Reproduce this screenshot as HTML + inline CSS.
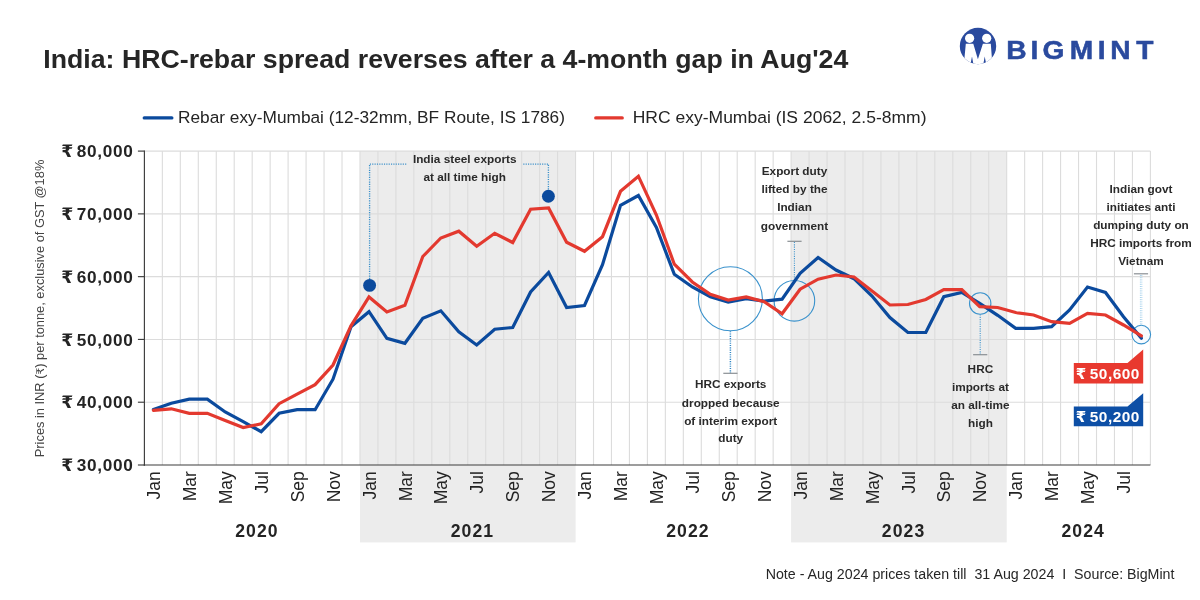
<!DOCTYPE html>
<html lang="en"><head><meta charset="utf-8"><title>India: HRC-rebar spread</title>
<style>
html,body{margin:0;padding:0;background:#fff;}
body{width:1200px;height:600px;position:relative;overflow:hidden;font-family:"Liberation Sans", "DejaVu Sans", sans-serif;}
</style></head><body>
<svg width="1200" height="600" viewBox="0 0 1200 600" style="position:absolute;left:0;top:0" font-family='"Liberation Sans", "DejaVu Sans", sans-serif'>
<rect x="360.0" y="151.1" width="215.6" height="391.3" fill="#ececec"/>
<rect x="791.1" y="151.1" width="215.6" height="391.3" fill="#ececec"/>
<line x1="162.36" y1="151.1" x2="162.36" y2="465.0" stroke="#dcdcdc" stroke-width="1.1"/>
<line x1="180.33" y1="151.1" x2="180.33" y2="465.0" stroke="#dcdcdc" stroke-width="1.1"/>
<line x1="198.29" y1="151.1" x2="198.29" y2="465.0" stroke="#dcdcdc" stroke-width="1.1"/>
<line x1="216.26" y1="151.1" x2="216.26" y2="465.0" stroke="#dcdcdc" stroke-width="1.1"/>
<line x1="234.22" y1="151.1" x2="234.22" y2="465.0" stroke="#dcdcdc" stroke-width="1.1"/>
<line x1="252.19" y1="151.1" x2="252.19" y2="465.0" stroke="#dcdcdc" stroke-width="1.1"/>
<line x1="270.15" y1="151.1" x2="270.15" y2="465.0" stroke="#dcdcdc" stroke-width="1.1"/>
<line x1="288.11" y1="151.1" x2="288.11" y2="465.0" stroke="#dcdcdc" stroke-width="1.1"/>
<line x1="306.08" y1="151.1" x2="306.08" y2="465.0" stroke="#dcdcdc" stroke-width="1.1"/>
<line x1="324.04" y1="151.1" x2="324.04" y2="465.0" stroke="#dcdcdc" stroke-width="1.1"/>
<line x1="342.01" y1="151.1" x2="342.01" y2="465.0" stroke="#dcdcdc" stroke-width="1.1"/>
<line x1="359.97" y1="151.1" x2="359.97" y2="465.0" stroke="#dcdcdc" stroke-width="1.1"/>
<line x1="377.94" y1="151.1" x2="377.94" y2="465.0" stroke="#dcdcdc" stroke-width="1.1"/>
<line x1="395.90" y1="151.1" x2="395.90" y2="465.0" stroke="#dcdcdc" stroke-width="1.1"/>
<line x1="413.86" y1="151.1" x2="413.86" y2="465.0" stroke="#dcdcdc" stroke-width="1.1"/>
<line x1="431.83" y1="151.1" x2="431.83" y2="465.0" stroke="#dcdcdc" stroke-width="1.1"/>
<line x1="449.79" y1="151.1" x2="449.79" y2="465.0" stroke="#dcdcdc" stroke-width="1.1"/>
<line x1="467.76" y1="151.1" x2="467.76" y2="465.0" stroke="#dcdcdc" stroke-width="1.1"/>
<line x1="485.72" y1="151.1" x2="485.72" y2="465.0" stroke="#dcdcdc" stroke-width="1.1"/>
<line x1="503.69" y1="151.1" x2="503.69" y2="465.0" stroke="#dcdcdc" stroke-width="1.1"/>
<line x1="521.65" y1="151.1" x2="521.65" y2="465.0" stroke="#dcdcdc" stroke-width="1.1"/>
<line x1="539.61" y1="151.1" x2="539.61" y2="465.0" stroke="#dcdcdc" stroke-width="1.1"/>
<line x1="557.58" y1="151.1" x2="557.58" y2="465.0" stroke="#dcdcdc" stroke-width="1.1"/>
<line x1="575.54" y1="151.1" x2="575.54" y2="465.0" stroke="#dcdcdc" stroke-width="1.1"/>
<line x1="593.51" y1="151.1" x2="593.51" y2="465.0" stroke="#dcdcdc" stroke-width="1.1"/>
<line x1="611.47" y1="151.1" x2="611.47" y2="465.0" stroke="#dcdcdc" stroke-width="1.1"/>
<line x1="629.44" y1="151.1" x2="629.44" y2="465.0" stroke="#dcdcdc" stroke-width="1.1"/>
<line x1="647.40" y1="151.1" x2="647.40" y2="465.0" stroke="#dcdcdc" stroke-width="1.1"/>
<line x1="665.36" y1="151.1" x2="665.36" y2="465.0" stroke="#dcdcdc" stroke-width="1.1"/>
<line x1="683.33" y1="151.1" x2="683.33" y2="465.0" stroke="#dcdcdc" stroke-width="1.1"/>
<line x1="701.29" y1="151.1" x2="701.29" y2="465.0" stroke="#dcdcdc" stroke-width="1.1"/>
<line x1="719.26" y1="151.1" x2="719.26" y2="465.0" stroke="#dcdcdc" stroke-width="1.1"/>
<line x1="737.22" y1="151.1" x2="737.22" y2="465.0" stroke="#dcdcdc" stroke-width="1.1"/>
<line x1="755.19" y1="151.1" x2="755.19" y2="465.0" stroke="#dcdcdc" stroke-width="1.1"/>
<line x1="773.15" y1="151.1" x2="773.15" y2="465.0" stroke="#dcdcdc" stroke-width="1.1"/>
<line x1="791.11" y1="151.1" x2="791.11" y2="465.0" stroke="#dcdcdc" stroke-width="1.1"/>
<line x1="809.08" y1="151.1" x2="809.08" y2="465.0" stroke="#dcdcdc" stroke-width="1.1"/>
<line x1="827.04" y1="151.1" x2="827.04" y2="465.0" stroke="#dcdcdc" stroke-width="1.1"/>
<line x1="845.01" y1="151.1" x2="845.01" y2="465.0" stroke="#dcdcdc" stroke-width="1.1"/>
<line x1="862.97" y1="151.1" x2="862.97" y2="465.0" stroke="#dcdcdc" stroke-width="1.1"/>
<line x1="880.94" y1="151.1" x2="880.94" y2="465.0" stroke="#dcdcdc" stroke-width="1.1"/>
<line x1="898.90" y1="151.1" x2="898.90" y2="465.0" stroke="#dcdcdc" stroke-width="1.1"/>
<line x1="916.86" y1="151.1" x2="916.86" y2="465.0" stroke="#dcdcdc" stroke-width="1.1"/>
<line x1="934.83" y1="151.1" x2="934.83" y2="465.0" stroke="#dcdcdc" stroke-width="1.1"/>
<line x1="952.79" y1="151.1" x2="952.79" y2="465.0" stroke="#dcdcdc" stroke-width="1.1"/>
<line x1="970.76" y1="151.1" x2="970.76" y2="465.0" stroke="#dcdcdc" stroke-width="1.1"/>
<line x1="988.72" y1="151.1" x2="988.72" y2="465.0" stroke="#dcdcdc" stroke-width="1.1"/>
<line x1="1006.69" y1="151.1" x2="1006.69" y2="465.0" stroke="#dcdcdc" stroke-width="1.1"/>
<line x1="1024.65" y1="151.1" x2="1024.65" y2="465.0" stroke="#dcdcdc" stroke-width="1.1"/>
<line x1="1042.61" y1="151.1" x2="1042.61" y2="465.0" stroke="#dcdcdc" stroke-width="1.1"/>
<line x1="1060.58" y1="151.1" x2="1060.58" y2="465.0" stroke="#dcdcdc" stroke-width="1.1"/>
<line x1="1078.54" y1="151.1" x2="1078.54" y2="465.0" stroke="#dcdcdc" stroke-width="1.1"/>
<line x1="1096.51" y1="151.1" x2="1096.51" y2="465.0" stroke="#dcdcdc" stroke-width="1.1"/>
<line x1="1114.47" y1="151.1" x2="1114.47" y2="465.0" stroke="#dcdcdc" stroke-width="1.1"/>
<line x1="1132.44" y1="151.1" x2="1132.44" y2="465.0" stroke="#dcdcdc" stroke-width="1.1"/>
<line x1="1150.40" y1="151.1" x2="1150.40" y2="465.0" stroke="#dcdcdc" stroke-width="1.1"/>
<line x1="144.4" y1="402.22" x2="1150.4" y2="402.22" stroke="#dcdcdc" stroke-width="1.1"/>
<line x1="144.4" y1="339.44" x2="1150.4" y2="339.44" stroke="#dcdcdc" stroke-width="1.1"/>
<line x1="144.4" y1="276.66" x2="1150.4" y2="276.66" stroke="#dcdcdc" stroke-width="1.1"/>
<line x1="144.4" y1="213.88" x2="1150.4" y2="213.88" stroke="#dcdcdc" stroke-width="1.1"/>
<line x1="144.4" y1="151.10" x2="1150.4" y2="151.10" stroke="#dcdcdc" stroke-width="1.1"/>
<line x1="144.4" y1="150.6" x2="144.4" y2="465.7" stroke="#3c3c3c" stroke-width="1.15"/>
<line x1="143.7" y1="465.0" x2="1150.4" y2="465.0" stroke="#3c3c3c" stroke-width="1.15"/>
<line x1="137.9" y1="465.00" x2="144.4" y2="465.00" stroke="#3c3c3c" stroke-width="1.15"/>
<text x="133.6" y="471.1" text-anchor="end" font-size="17.2" font-weight="bold" fill="#242424" letter-spacing="0.7"><tspan font-size="17.3" letter-spacing="0">₹</tspan><tspan dx="3.6">30,000</tspan></text>
<line x1="137.9" y1="402.22" x2="144.4" y2="402.22" stroke="#3c3c3c" stroke-width="1.15"/>
<text x="133.6" y="408.3" text-anchor="end" font-size="17.2" font-weight="bold" fill="#242424" letter-spacing="0.7"><tspan font-size="17.3" letter-spacing="0">₹</tspan><tspan dx="3.6">40,000</tspan></text>
<line x1="137.9" y1="339.44" x2="144.4" y2="339.44" stroke="#3c3c3c" stroke-width="1.15"/>
<text x="133.6" y="345.5" text-anchor="end" font-size="17.2" font-weight="bold" fill="#242424" letter-spacing="0.7"><tspan font-size="17.3" letter-spacing="0">₹</tspan><tspan dx="3.6">50,000</tspan></text>
<line x1="137.9" y1="276.66" x2="144.4" y2="276.66" stroke="#3c3c3c" stroke-width="1.15"/>
<text x="133.6" y="282.8" text-anchor="end" font-size="17.2" font-weight="bold" fill="#242424" letter-spacing="0.7"><tspan font-size="17.3" letter-spacing="0">₹</tspan><tspan dx="3.6">60,000</tspan></text>
<line x1="137.9" y1="213.88" x2="144.4" y2="213.88" stroke="#3c3c3c" stroke-width="1.15"/>
<text x="133.6" y="220.0" text-anchor="end" font-size="17.2" font-weight="bold" fill="#242424" letter-spacing="0.7"><tspan font-size="17.3" letter-spacing="0">₹</tspan><tspan dx="3.6">70,000</tspan></text>
<line x1="137.9" y1="151.10" x2="144.4" y2="151.10" stroke="#3c3c3c" stroke-width="1.15"/>
<text x="133.6" y="157.2" text-anchor="end" font-size="17.2" font-weight="bold" fill="#242424" letter-spacing="0.7"><tspan font-size="17.3" letter-spacing="0">₹</tspan><tspan dx="3.6">80,000</tspan></text>
<text transform="translate(43.8,457.2) rotate(-90)" font-size="12.6" fill="#444" textLength="297.5" lengthAdjust="spacingAndGlyphs">Prices in INR (<tspan font-size="10.5">₹</tspan>) per tonne, exclusive of GST @18%</text>
<text transform="translate(160.0,471.2) rotate(-90)" text-anchor="end" font-size="17.5" fill="#242424">Jan</text>
<text transform="translate(195.9,471.2) rotate(-90)" text-anchor="end" font-size="17.5" fill="#242424">Mar</text>
<text transform="translate(231.8,471.2) rotate(-90)" text-anchor="end" font-size="17.5" fill="#242424">May</text>
<text transform="translate(267.8,471.2) rotate(-90)" text-anchor="end" font-size="17.5" fill="#242424">Jul</text>
<text transform="translate(303.7,471.2) rotate(-90)" text-anchor="end" font-size="17.5" fill="#242424">Sep</text>
<text transform="translate(339.6,471.2) rotate(-90)" text-anchor="end" font-size="17.5" fill="#242424">Nov</text>
<text transform="translate(375.6,471.2) rotate(-90)" text-anchor="end" font-size="17.5" fill="#242424">Jan</text>
<text transform="translate(411.5,471.2) rotate(-90)" text-anchor="end" font-size="17.5" fill="#242424">Mar</text>
<text transform="translate(447.4,471.2) rotate(-90)" text-anchor="end" font-size="17.5" fill="#242424">May</text>
<text transform="translate(483.3,471.2) rotate(-90)" text-anchor="end" font-size="17.5" fill="#242424">Jul</text>
<text transform="translate(519.3,471.2) rotate(-90)" text-anchor="end" font-size="17.5" fill="#242424">Sep</text>
<text transform="translate(555.2,471.2) rotate(-90)" text-anchor="end" font-size="17.5" fill="#242424">Nov</text>
<text transform="translate(591.1,471.2) rotate(-90)" text-anchor="end" font-size="17.5" fill="#242424">Jan</text>
<text transform="translate(627.1,471.2) rotate(-90)" text-anchor="end" font-size="17.5" fill="#242424">Mar</text>
<text transform="translate(663.0,471.2) rotate(-90)" text-anchor="end" font-size="17.5" fill="#242424">May</text>
<text transform="translate(698.9,471.2) rotate(-90)" text-anchor="end" font-size="17.5" fill="#242424">Jul</text>
<text transform="translate(734.8,471.2) rotate(-90)" text-anchor="end" font-size="17.5" fill="#242424">Sep</text>
<text transform="translate(770.8,471.2) rotate(-90)" text-anchor="end" font-size="17.5" fill="#242424">Nov</text>
<text transform="translate(806.7,471.2) rotate(-90)" text-anchor="end" font-size="17.5" fill="#242424">Jan</text>
<text transform="translate(842.6,471.2) rotate(-90)" text-anchor="end" font-size="17.5" fill="#242424">Mar</text>
<text transform="translate(878.6,471.2) rotate(-90)" text-anchor="end" font-size="17.5" fill="#242424">May</text>
<text transform="translate(914.5,471.2) rotate(-90)" text-anchor="end" font-size="17.5" fill="#242424">Jul</text>
<text transform="translate(950.4,471.2) rotate(-90)" text-anchor="end" font-size="17.5" fill="#242424">Sep</text>
<text transform="translate(986.3,471.2) rotate(-90)" text-anchor="end" font-size="17.5" fill="#242424">Nov</text>
<text transform="translate(1022.3,471.2) rotate(-90)" text-anchor="end" font-size="17.5" fill="#242424">Jan</text>
<text transform="translate(1058.2,471.2) rotate(-90)" text-anchor="end" font-size="17.5" fill="#242424">Mar</text>
<text transform="translate(1094.1,471.2) rotate(-90)" text-anchor="end" font-size="17.5" fill="#242424">May</text>
<text transform="translate(1130.1,471.2) rotate(-90)" text-anchor="end" font-size="17.5" fill="#242424">Jul</text>
<text x="256.9" y="536.9" text-anchor="middle" font-size="17.6" font-weight="bold" fill="#242424" letter-spacing="1.1">2020</text>
<text x="472.5" y="536.9" text-anchor="middle" font-size="17.6" font-weight="bold" fill="#242424" letter-spacing="1.1">2021</text>
<text x="688.0" y="536.9" text-anchor="middle" font-size="17.6" font-weight="bold" fill="#242424" letter-spacing="1.1">2022</text>
<text x="903.6" y="536.9" text-anchor="middle" font-size="17.6" font-weight="bold" fill="#242424" letter-spacing="1.1">2023</text>
<text x="1083.2" y="536.9" text-anchor="middle" font-size="17.6" font-weight="bold" fill="#242424" letter-spacing="1.1">2024</text>
<polyline points="369.6,279 369.6,164.1 406.3,164.1" fill="none" stroke="#3a8fc9" stroke-width="1.35" stroke-dasharray="1.15 1.2"/>
<polyline points="523.3,164.1 548.4,164.1 548.4,190" fill="none" stroke="#3a8fc9" stroke-width="1.35" stroke-dasharray="1.15 1.2"/>
<circle cx="730.4" cy="298.7" r="32" fill="none" stroke="#3a92cc" stroke-width="1.1"/>
<circle cx="794.4" cy="300.8" r="20.3" fill="none" stroke="#3a92cc" stroke-width="1.1"/>
<circle cx="980.2" cy="303.5" r="10.7" fill="none" stroke="#3a92cc" stroke-width="1.1"/>
<circle cx="1141.3" cy="334.6" r="9.3" fill="#f7fbfe" stroke="#3a92cc" stroke-width="1.1"/>
<line x1="730.4" y1="331.2" x2="730.4" y2="373.2" stroke="#2f86c5" stroke-width="1.45" stroke-dasharray="1.1 1.2"/>
<line x1="723.3" y1="373.3" x2="737.5" y2="373.3" stroke="#8a8f94" stroke-width="1.2"/>
<line x1="794.4" y1="242" x2="794.4" y2="280" stroke="#3a92cc" stroke-width="1.05" stroke-dasharray="1.1 1.2"/>
<line x1="787.4" y1="241.3" x2="801.6" y2="241.3" stroke="#8a8f94" stroke-width="1.2"/>
<line x1="980.2" y1="314.5" x2="980.2" y2="354.5" stroke="#3a92cc" stroke-width="1.05" stroke-dasharray="1.1 1.2"/>
<line x1="973.1" y1="354.7" x2="987.3000000000001" y2="354.7" stroke="#8a8f94" stroke-width="1.2"/>
<line x1="1140.4" y1="275" x2="1140.4" y2="325" stroke="#8cc4e6" stroke-width="0.8" stroke-dasharray="1 1.2"/><line x1="1141.8" y1="275" x2="1141.8" y2="325" stroke="#8cc4e6" stroke-width="0.8" stroke-dasharray="1 1.2"/>
<line x1="1133.9" y1="273.8" x2="1148.1" y2="273.8" stroke="#8a8f94" stroke-width="1.2"/>
<polyline points="153.4,409.5 171.3,403.3 189.3,399.2 207.3,399.2 225.2,412.0 243.2,421.7 261.2,431.7 279.1,413.3 297.1,409.7 315.1,409.7 333.0,379.2 351.0,326.7 369.0,311.7 386.9,338.3 404.9,343.3 422.8,318.3 440.8,310.8 458.8,331.7 476.7,345.0 494.7,329.2 512.7,327.5 530.6,292.0 548.6,272.5 566.6,307.5 584.5,305.5 602.5,264.7 620.5,205.3 638.4,195.5 656.4,227.5 674.3,274.2 692.3,287.0 710.3,296.7 728.2,302.0 746.2,298.7 764.2,301.2 782.1,299.2 800.1,273.3 818.1,257.5 836.0,270.0 854.0,278.7 872.0,296.0 889.9,317.5 907.9,332.5 925.8,332.5 943.8,296.7 961.8,292.5 979.7,303.3 997.7,315.3 1015.7,328.3 1033.6,328.3 1051.6,326.7 1069.6,310.0 1087.5,287.0 1105.5,292.5 1123.5,316.7 1141.4,338.3" fill="none" stroke="#0b4a9d" stroke-width="3.2" stroke-linejoin="miter" stroke-linecap="round"/>
<polyline points="153.4,410.3 171.3,408.8 189.3,413.3 207.3,413.3 225.2,420.5 243.2,427.5 261.2,423.8 279.1,403.7 297.1,394.2 315.1,384.7 333.0,365.0 351.0,325.8 369.0,297.0 386.9,312.0 404.9,305.3 422.8,256.5 440.8,238.0 458.8,231.2 476.7,246.3 494.7,233.3 512.7,242.5 530.6,209.2 548.6,208.0 566.6,242.2 584.5,251.3 602.5,236.7 620.5,191.3 638.4,176.2 656.4,215.0 674.3,264.2 692.3,282.0 710.3,294.2 728.2,300.0 746.2,297.0 764.2,301.7 782.1,313.8 800.1,289.2 818.1,279.2 836.0,275.0 854.0,277.0 872.0,291.0 889.9,305.0 907.9,304.5 925.8,299.5 943.8,289.7 961.8,289.7 979.7,306.7 997.7,307.5 1015.7,312.5 1033.6,315.0 1051.6,321.7 1069.6,323.3 1087.5,313.3 1105.5,315.0 1123.5,325.0 1141.4,335.8" fill="none" stroke="#e3392f" stroke-width="3.2" stroke-linejoin="miter" stroke-linecap="round"/>
<circle cx="369.6" cy="285.4" r="6.45" fill="#0b4a9d"/>
<circle cx="548.4" cy="196.3" r="6.45" fill="#0b4a9d"/>
<path d="M1073.8 363 H1127.5 L1143.2 349.6 V383.5 H1073.8 Z" fill="#e8392f"/>
<path d="M1073.8 406.5 H1127.5 L1143.2 393.2 V426.3 H1073.8 Z" fill="#0d4fa6"/>
<text x="1139.9" y="378.6" text-anchor="end" font-size="15.4" font-weight="bold" fill="#fff" letter-spacing="0.5"><tspan font-size="15" letter-spacing="0">₹</tspan><tspan dx="3.6">50,600</tspan></text>
<text x="1139.9" y="421.9" text-anchor="end" font-size="15.4" font-weight="bold" fill="#fff" letter-spacing="0.5"><tspan font-size="15" letter-spacing="0">₹</tspan><tspan dx="3.6">50,200</tspan></text>
<text x="464.7" y="162.6" text-anchor="middle" font-size="11.8" font-weight="bold" fill="#2a2a2a">India steel exports</text>
<text x="464.7" y="180.9" text-anchor="middle" font-size="11.8" font-weight="bold" fill="#2a2a2a">at all time high</text>
<text x="730.7" y="388.3" text-anchor="middle" font-size="11.8" font-weight="bold" fill="#2a2a2a">HRC exports</text>
<text x="730.7" y="406.8" text-anchor="middle" font-size="11.8" font-weight="bold" fill="#2a2a2a">dropped because</text>
<text x="730.7" y="425" text-anchor="middle" font-size="11.8" font-weight="bold" fill="#2a2a2a">of interim export</text>
<text x="730.7" y="442.4" text-anchor="middle" font-size="11.8" font-weight="bold" fill="#2a2a2a">duty</text>
<text x="794.5" y="175.1" text-anchor="middle" font-size="11.8" font-weight="bold" fill="#2a2a2a">Export duty</text>
<text x="794.5" y="193.4" text-anchor="middle" font-size="11.8" font-weight="bold" fill="#2a2a2a">lifted by the</text>
<text x="794.5" y="211.4" text-anchor="middle" font-size="11.8" font-weight="bold" fill="#2a2a2a">Indian</text>
<text x="794.5" y="229.7" text-anchor="middle" font-size="11.8" font-weight="bold" fill="#2a2a2a">government</text>
<text x="980.4" y="372.5" text-anchor="middle" font-size="11.8" font-weight="bold" fill="#2a2a2a">HRC</text>
<text x="980.4" y="390.8" text-anchor="middle" font-size="11.8" font-weight="bold" fill="#2a2a2a">imports at</text>
<text x="980.4" y="408.8" text-anchor="middle" font-size="11.8" font-weight="bold" fill="#2a2a2a">an all-time</text>
<text x="980.4" y="426.6" text-anchor="middle" font-size="11.8" font-weight="bold" fill="#2a2a2a">high</text>
<text x="1141" y="192.9" text-anchor="middle" font-size="11.8" font-weight="bold" fill="#2a2a2a">Indian govt</text>
<text x="1141" y="210.9" text-anchor="middle" font-size="11.8" font-weight="bold" fill="#2a2a2a">initiates anti</text>
<text x="1141" y="228.9" text-anchor="middle" font-size="11.8" font-weight="bold" fill="#2a2a2a">dumping duty on</text>
<text x="1141" y="247.1" text-anchor="middle" font-size="11.8" font-weight="bold" fill="#2a2a2a">HRC imports from</text>
<text x="1141" y="264.6" text-anchor="middle" font-size="11.8" font-weight="bold" fill="#2a2a2a">Vietnam</text>
<line x1="144.3" y1="117.9" x2="171.8" y2="117.9" stroke="#0b4a9d" stroke-width="3.4" stroke-linecap="round"/>
<text x="178" y="122.8" font-size="17.2" fill="#242424" textLength="387" lengthAdjust="spacingAndGlyphs">Rebar exy-Mumbai (12-32mm, BF Route, IS 1786)</text>
<line x1="595.8" y1="117.9" x2="622.2" y2="117.9" stroke="#e3392f" stroke-width="3.4" stroke-linecap="round"/>
<text x="632.7" y="122.8" font-size="17.2" fill="#242424" textLength="293.8" lengthAdjust="spacingAndGlyphs">HRC exy-Mumbai (IS 2062, 2.5-8mm)</text>
<text x="43.3" y="67.8" font-size="26" font-weight="bold" fill="#262626" textLength="805" lengthAdjust="spacingAndGlyphs">India: HRC-rebar spread reverses after a 4-month gap in Aug'24</text>
<text x="765.7" y="578.9" font-size="15.3" fill="#262626" textLength="408.8" lengthAdjust="spacingAndGlyphs" style="white-space:pre">Note - Aug 2024 prices taken till  31 Aug 2024  I  Source: BigMint</text>
<defs><clipPath id="lc"><circle cx="978" cy="46" r="18.2"/></clipPath></defs>
<circle cx="978" cy="46" r="18.2" fill="#2a4a9e"/>
<circle cx="969.6" cy="38.3" r="4.6" fill="#fff"/><circle cx="986.7" cy="38.3" r="4.6" fill="#fff"/>
<path clip-path="url(#lc)" fill="#fff" d="M965.8 43.8 H973.3 L977.9 59.2 L982.9 43.8 H990.8 L992.5 66 H986.6 L984.7 56.6 L983.0 66 H973.7 L972.0 56.6 L970.1 66 H963.7 Z"/>
<text transform="scale(1.1,1)" x="914.88 936.71 947.71 972.49 997.89 1009.39 1032.96" y="59.0" font-size="25.6" font-weight="bold" fill="#2a4a9e" stroke="#2a4a9e" stroke-width="0.5">BIGMINT</text>
</svg>
</body></html>
